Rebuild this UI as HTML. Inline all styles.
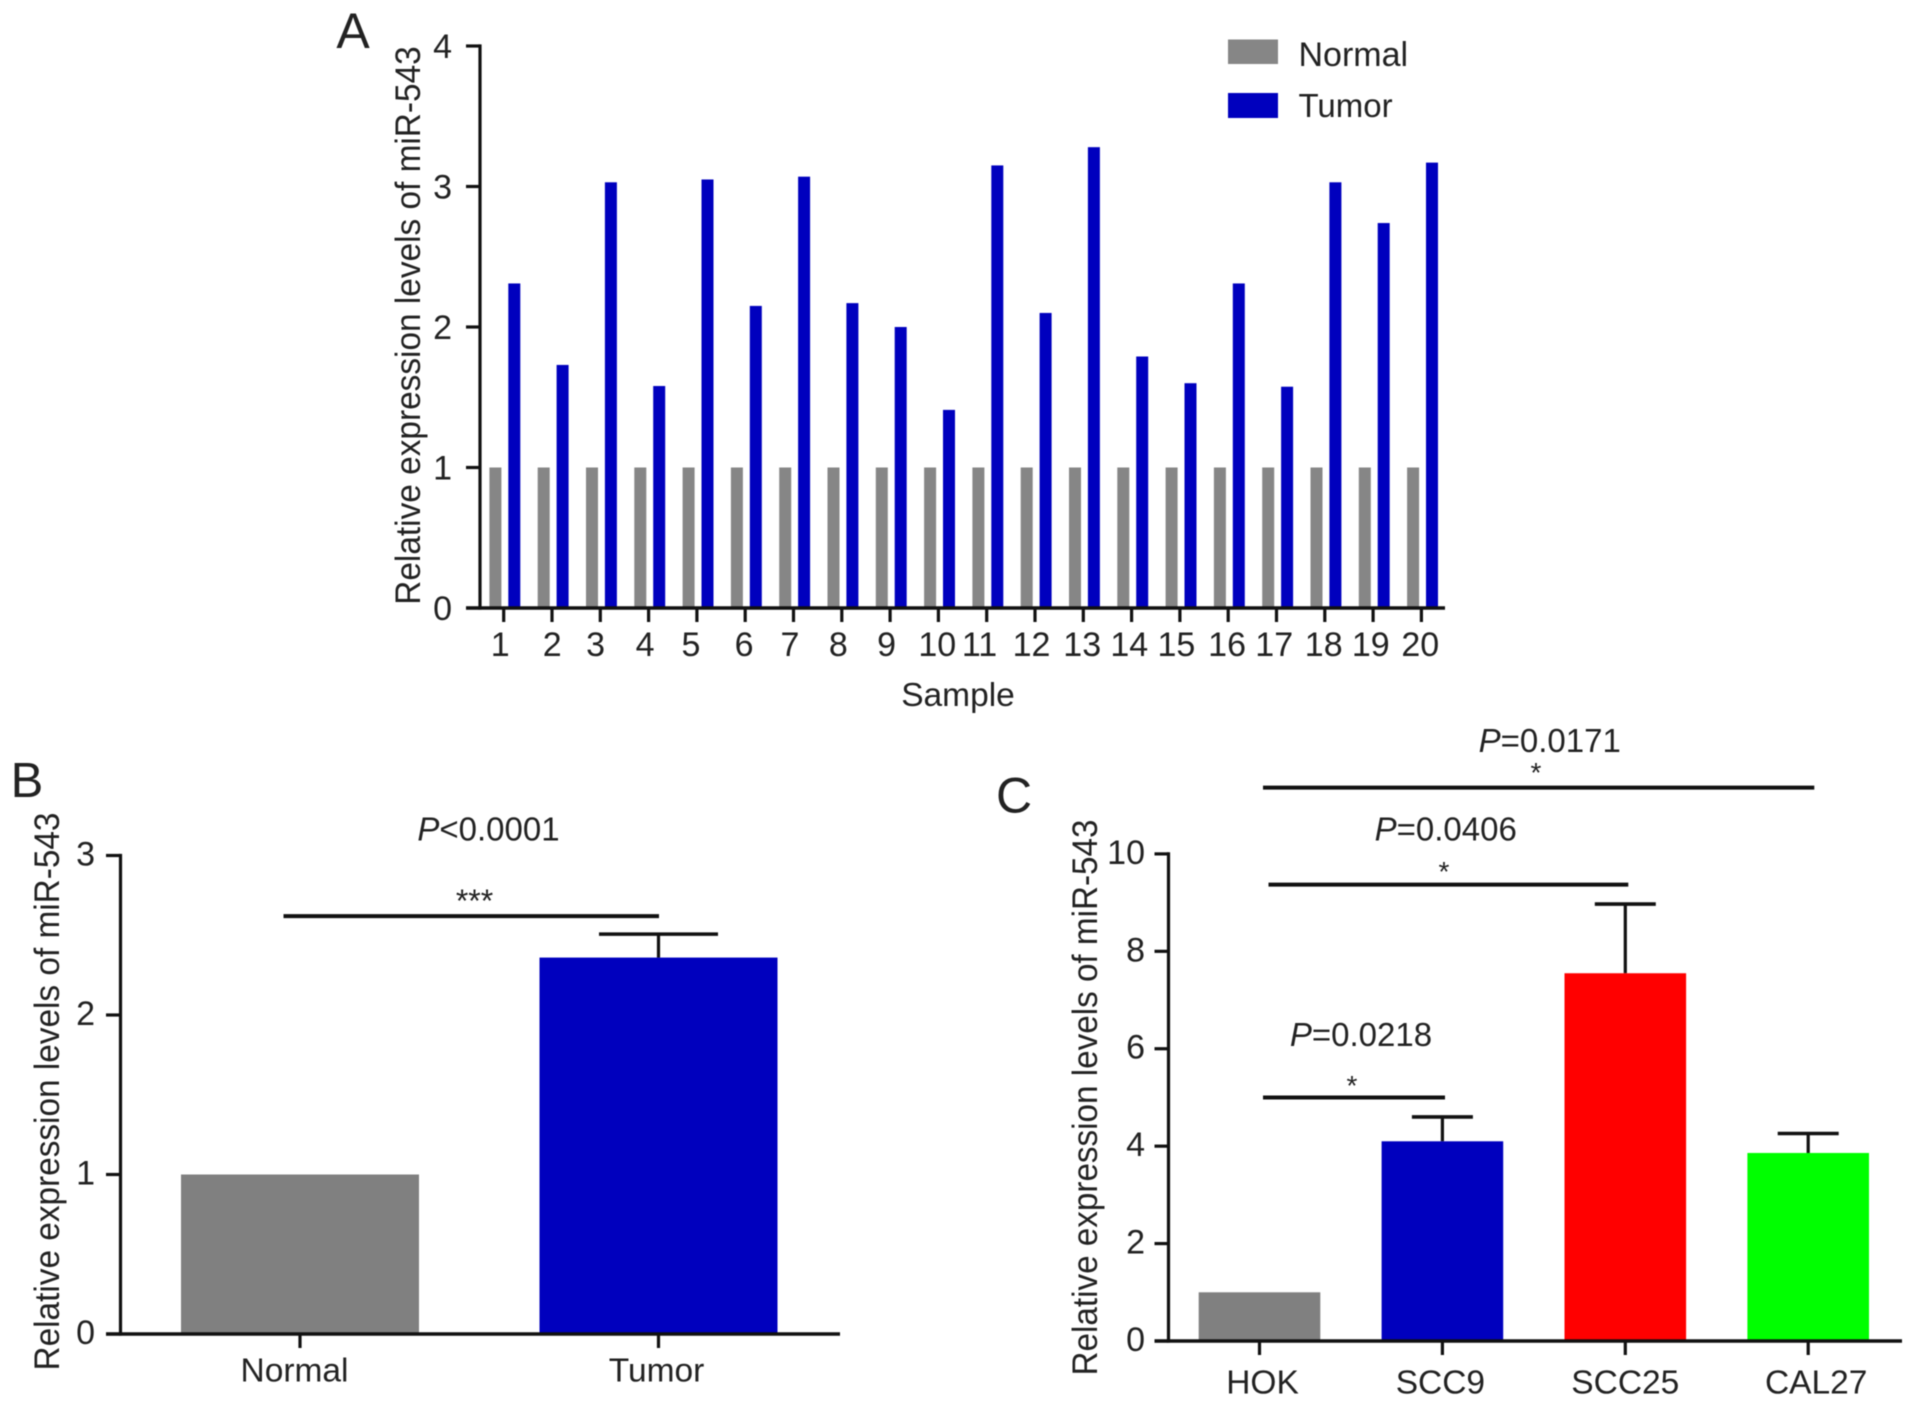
<!DOCTYPE html>
<html lang="en">
<head>
<meta charset="utf-8">
<title>miR-543 relative expression</title>
<style>
html,body{margin:0;padding:0;background:#fff;}
svg{display:block;filter:blur(0.5px);}
text{font-family:"Liberation Sans",Arial,sans-serif;fill:#222;}
</style>
</head>
<body>
<svg id="figure" xmlns="http://www.w3.org/2000/svg" width="1913" height="1407" viewBox="0 0 1913 1407"></svg>
<script>
/* ---------- Panel A data ---------- */
const sampleLabels = ['1','2','3','4','5','6','7','8','9','10','11','12','13','14','15','16','17','18','19','20'];
const normalValues = [1,1,1,1,1,1,1,1,1,1,1,1,1,1,1,1,1,1,1,1];
const tumorValues = [2.31,1.73,3.03,1.58,3.05,2.15,3.07,2.17,2.0,1.41,3.15,2.10,3.28,1.79,1.60,2.31,1.575,3.03,2.74,3.17];
const panelATicks = [0,1,2,3,4];

/* ---------- Panel B data ---------- */
const panelBCategories = ['Normal','Tumor'];
const panelBValues = [1,2.36];
const panelBErrors = [0,2.507];
const panelBTicks = [0,1,2,3];

/* ---------- Panel C data ---------- */
const panelCCategories = ['HOK','SCC9','SCC25','CAL27'];
const panelCValues = [1,4.1,7.55,3.86];
const panelCErrors = [0,4.6,8.97,4.26];
const panelCTicks = [0,2,4,6,8,10];

const NS = 'http://www.w3.org/2000/svg';
const svg = document.getElementById('figure');
const TICK_FONT = 34, INK = '#111';
const yTitleText = 'Relative expression levels of miR-543';

function make(tag, attrs) {
  const node = document.createElementNS(NS, tag);
  for (const k in attrs) node.setAttribute(k, attrs[k]);
  svg.appendChild(node);
  return node;
}
function rect(x, y, w, h, fill) { return make('rect', {x: x, y: y, width: w, height: h, fill: fill}); }
function line(x1, y1, x2, y2, sw) { return make('line', {x1: x1, y1: y1, x2: x2, y2: y2, stroke: INK, 'stroke-width': sw}); }
function label(str, x, y, size, anchor) {
  const t = make('text', {x: x, y: y, 'font-size': size, 'text-anchor': anchor || 'middle'});
  t.textContent = str;
  return t;
}
function pLabel(str, x, y) {
  const t = make('text', {x: x, y: y, 'font-size': 33, 'text-anchor': 'middle'});
  const p = document.createElementNS(NS, 'tspan');
  p.setAttribute('font-style', 'italic');
  p.textContent = 'P';
  t.appendChild(p);
  t.appendChild(document.createTextNode(str));
  return t;
}
function yTitle(cx, cy, len) {
  const t = make('text', {
    x: 0, y: 0, 'font-size': 35, 'text-anchor': 'middle',
    transform: 'translate(' + cx + ' ' + cy + ') rotate(-90)',
    textLength: len, lengthAdjust: 'spacingAndGlyphs'
  });
  t.textContent = yTitleText;
  return t;
}

/* ---------- Panel A ---------- */
const yA = v => 608 - 140.5 * v;
const xA = i => 503.7 + 48.3 * i;
const panelALabelNudge = [-3.5,0.2,-4.7,-3.5,-5.9,-1.1,-3.5,-3.5,-3.5,-1.1,-7.2,-3.5,-1.1,-2.3,-3.5,-1.1,-2.3,-1.1,-2.3,-1.1];

sampleLabels.forEach(function (s, i) {
  const g = rect(xA(i) - 14.3, yA(normalValues[i]), 12, yA(0) - yA(normalValues[i]), '#868686');
  
  
  const b = rect(xA(i) + 4.6, yA(tumorValues[i]), 12, yA(0) - yA(tumorValues[i]), '#0000BE');
  
  
  const tk = line(xA(i), yA(0), xA(i), yA(0) + 14, 3.2);
  
  
  const tl = label(s, xA(i) + panelALabelNudge[i], 656, TICK_FONT);
  
  
});
panelATicks.forEach(function (v) {
  const tk = line(466, yA(v), 480, yA(v), 3.2);
  
  
  const tl = label(String(v), 452, yA(v) + 12, TICK_FONT, 'end');
  
  
});
const aYAxis = line(480, yA(4) - 1.6, 480, yA(0) + 1.6, 3.2);


const aXAxis = line(466, yA(0), 1445, yA(0), 3.6);


const aTitle = yTitle(420, 325.5, 558.5);


const aXTitle = label('Sample', 958, 706, 33.5);


const aPanel = label('A', 353, 48, 50);



const legNormal = rect(1228, 39.5, 50, 24.5, '#868686');


const legNormalText = label('Normal', 1298.5, 66, 34, 'start');


const legTumor = rect(1228, 93, 50, 25, '#0000BE');


const legTumorText = label('Tumor', 1298.5, 117, 33, 'start');



/* ---------- Panel B ---------- */
const yB = v => 1334 - 159.5 * v;
const xB = i => 300 + 358.5 * i;
const panelBColors = ['#808080', '#0000BE'];
const panelBLabelNudge = [-5.5, -2];

panelBCategories.forEach(function (c, i) {
  if (panelBErrors[i] > panelBValues[i]) {
    const st = line(xB(i), yB(panelBErrors[i]), xB(i), yB(panelBValues[i]), 3.2);
    
    
    const cp = line(xB(i) - 59.5, yB(panelBErrors[i]), xB(i) + 59.5, yB(panelBErrors[i]), 3.6);
    
    
  }
  const b = rect(xB(i) - 119, yB(panelBValues[i]), 238, yB(0) - yB(panelBValues[i]), panelBColors[i]);
  
  
  const tk = line(xB(i), yB(0), xB(i), yB(0) + 14, 3.2);
  
  
  const tl = label(c, xB(i) + panelBLabelNudge[i], 1381.5, 33.5);
  
  
});
panelBTicks.forEach(function (v) {
  const tk = line(106, yB(v), 120.5, yB(v), 3.2);
  
  
  const tl = label(String(v), 95, yB(v) + 10, TICK_FONT, 'end');
  
  
});
const bYAxis = line(120.5, yB(3) - 1.6, 120.5, yB(0) + 1.6, 3.2);


const bXAxis = line(106, yB(0), 840, yB(0), 3.6);


const bTitle = yTitle(59, 1091.5, 558);


const bPanel = label('B', 27, 797, 49);


const bSig = line(283.5, yB(2.62), 659, yB(2.62), 4);


const bStars = label('***', 474.5, 912, 32);


const bP = pLabel('<0.0001', 488.5, 840.5);



/* ---------- Panel C ---------- */
const yC = v => 1341 - 48.71 * v;
const xC = i => 1259.5 + 182.9 * i;
const panelCColors = ['#808080', '#0000BE', '#FF0000', '#00FF00'];
const panelCLabelNudge = [3, -2, 0, 8];

panelCCategories.forEach(function (c, i) {
  if (panelCErrors[i] > panelCValues[i]) {
    const st = line(xC(i), yC(panelCErrors[i]), xC(i), yC(panelCValues[i]), 3.2);
    
    
    const cp = line(xC(i) - 30.5, yC(panelCErrors[i]), xC(i) + 30.5, yC(panelCErrors[i]), 3.6);
    
    
  }
  const b = rect(xC(i) - 60.8, yC(panelCValues[i]), 121.6, yC(0) - yC(panelCValues[i]), panelCColors[i]);
  
  
  const tk = line(xC(i), yC(0), xC(i), yC(0) + 14, 3.2);
  
  
  const tl = label(c, xC(i) + panelCLabelNudge[i], 1393.5, 33.5);
  
  
});
panelCTicks.forEach(function (v) {
  const tk = line(1154.5, yC(v), 1168.5, yC(v), 3.2);
  
  
  const tl = label(String(v), 1145, yC(v) + 10, TICK_FONT, 'end');
  
  
});
const cYAxis = line(1168.5, yC(10) - 1.6, 1168.5, yC(0) + 1.6, 3.2);


const cXAxis = line(1154.5, yC(0), 1902, yC(0), 3.6);


const cTitle = yTitle(1097, 1097.5, 556);


const cPanel = label('C', 1014, 812.5, 50);



const sigTop = line(1263, yC(11.36), 1814.3, yC(11.36), 4);


const sigMid = line(1268.5, yC(9.37), 1628.3, yC(9.37), 4);


const sigLow = line(1263, yC(5), 1445, yC(5), 4);



const starTop = label('*', 1536, 782, 28);


const starMid = label('*', 1444, 881, 28);


const starLow = label('*', 1352, 1095, 28);



const pTop = pLabel('=0.0171', 1549.7, 752);


const pMid = pLabel('=0.0406', 1445.7, 840.5);


const pLow = pLabel('=0.0218', 1361, 1046);


</script>
</body>
</html>
